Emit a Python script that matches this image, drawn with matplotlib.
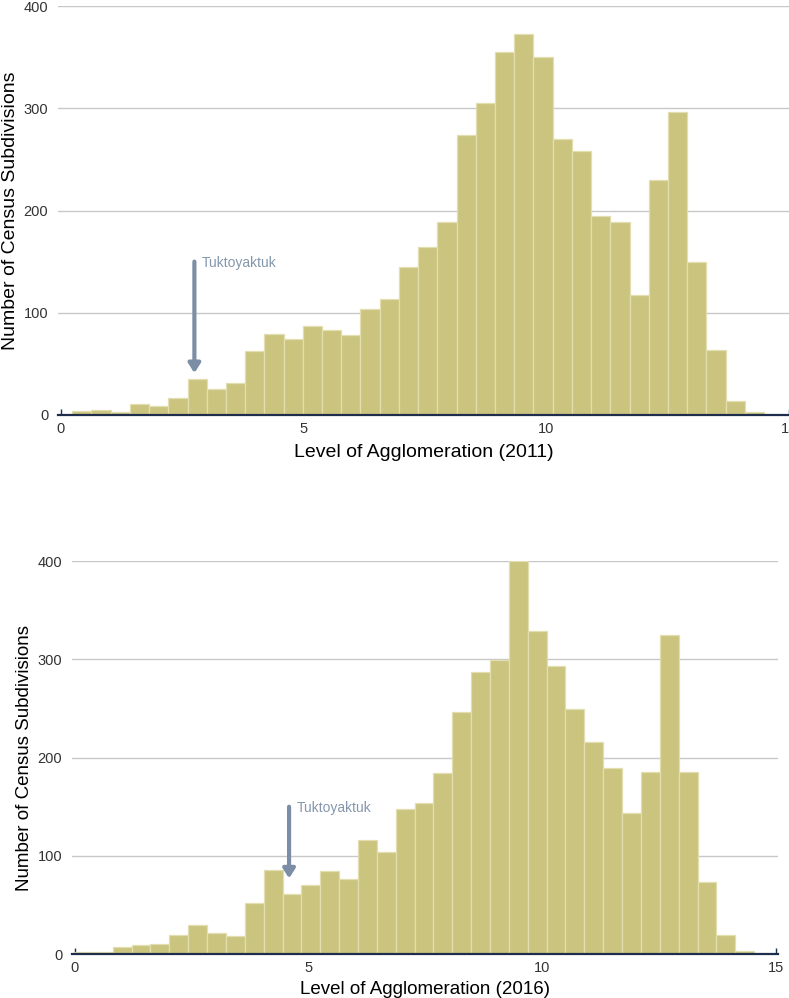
import matplotlib
matplotlib.use('Agg')
import matplotlib.pyplot as plt

plt.rcParams['font.family'] = ['Liberation Sans', 'DejaVu Sans']

# histogram counts per bin, 36 bins each
start_2011 = 0.232
width_2011 = 0.396
counts_2011 = [4, 5, 3, 11, 9, 17, 35, 25, 31, 63, 79, 74, 87, 83, 78, 104, 113,
               145, 164, 189, 274, 305, 355, 373, 350, 270, 258, 195, 189, 117,
               230, 296, 150, 64, 14, 3]

start_2016 = 0.0
width_2016 = 0.4036
counts_2016 = [2, 2, 7, 9, 10, 19, 30, 21, 18, 52, 86, 61, 70, 85, 76, 116, 104,
               148, 154, 184, 247, 287, 299, 400, 329, 293, 250, 216, 189, 144,
               185, 325, 185, 73, 19, 3]

# Tuktoyaktuk position (x, arrow top, arrow tip)
tuk_2011 = (2.75, 150, 41)
tuk_2016 = (4.58, 150, 77)

bar_col = '#cbc47f'
edge_col = '#e2deb0'
arrow_col = '#7b8ea6'
text_col = '#8497ad'
grid_col = '#c8c8c8'
axis_col = '#1f2d4d'


def draw_panel(ax, start, width, counts, tuk, year, xlim, xpad, fs):
    lefts = [start + i * width for i in range(len(counts))]
    ax.bar(lefts, counts, width=width, align='edge', color=bar_col,
           edgecolor=edge_col, linewidth=0.9, zorder=2)
    ax.set_xlim(*xlim)
    ax.set_ylim(0, 400)
    ax.set_yticks([0, 100, 200, 300, 400])
    ax.set_xticks([0, 5, 10, 15])
    ax.grid(axis='y', color=grid_col, linewidth=1.0, zorder=0)
    for s in ['top', 'right', 'left']:
        ax.spines[s].set_visible(False)
    ax.spines['bottom'].set_color(axis_col)
    ax.spines['bottom'].set_linewidth(1.6)
    ax.spines['bottom'].set_zorder(3)
    ax.tick_params(axis='y', length=0, pad=7, labelsize=10.5, labelcolor='#333333')
    ax.tick_params(axis='x', direction='in', length=4, width=1, color=axis_col,
                   pad=5, labelsize=10.5, labelcolor='#333333')
    ax.set_xlabel('Level of Agglomeration (%d)' % year, fontsize=fs, labelpad=xpad)
    ax.set_ylabel('Number of Census Subdivisions', fontsize=fs)

    x, y0, y1 = tuk
    ax.annotate('', xy=(x, y1), xytext=(x, y0),
                arrowprops=dict(arrowstyle='-|>,head_length=0.55,head_width=0.35',
                                color=arrow_col, lw=3, shrinkA=0, shrinkB=0),
                zorder=4)
    ax.text(x + 0.16, y0 - 1, 'Tuktoyaktuk', color=text_col, fontsize=10,
            va='center', ha='left')


fig = plt.figure(figsize=(7.89, 9.98), dpi=100)

ax0 = fig.add_axes([58 / 789, 1 - 415 / 998, 1 - 58 / 789, 409 / 998])
ax0.patch.set_alpha(0)
draw_panel(ax0, start_2011, width_2011, counts_2011, tuk_2011, 2011, (-0.06, 14.95), 6, 14)
ax0.yaxis.set_label_coords(-0.053, 0.5)

ax1 = fig.add_axes([72 / 789, 1 - 954 / 998, 706 / 789, 392.7 / 998])
ax1.patch.set_alpha(0)
draw_panel(ax1, start_2016, width_2016, counts_2016, tuk_2016, 2016, (-0.064, 15.04), 4, 13.5)
ax1.yaxis.set_label_coords(-0.055, 0.5)

fig.savefig('out.png', dpi=100)
